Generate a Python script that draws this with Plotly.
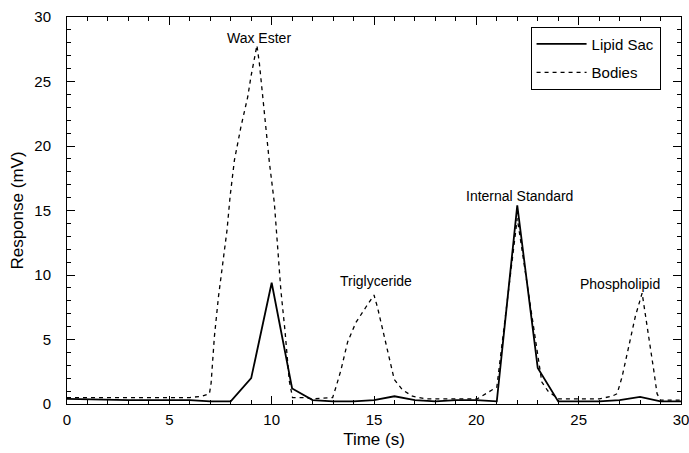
import plotly.graph_objects as go

# Lipid Sac (solid), sampled each second
lipid_t = list(range(0, 31))
lipid_v = [0.4, 0.35, 0.3, 0.3, 0.3, 0.3, 0.3, 0.2, 0.2, 2.0,
           9.4, 1.2, 0.3, 0.2, 0.2, 0.3, 0.6, 0.3, 0.2, 0.3,
           0.3, 0.2, 15.4, 2.8, 0.2, 0.2, 0.2, 0.3, 0.55, 0.2, 0.2]

# Bodies (dashed)
bodies_t = [0, 2, 4, 6, 6.6, 6.96, 7.04, 7.2, 7.4, 7.61, 7.82, 7.97, 8.18, 8.5, 8.83, 8.99,
            9.28, 9.4, 9.64, 9.89, 10.13, 10.29, 10.45, 10.65, 10.86, 11.02, 11.5, 12.0,
            12.98, 13.14, 13.38, 13.71, 14.11, 14.6, 15.0, 15.17, 15.5, 15.74, 15.99, 16.39,
            16.88, 17.5, 19.0, 20.05, 20.78, 21.0, 22.0, 23.2, 23.5, 24.0, 26.0, 26.63,
            26.88, 27.12, 27.37, 27.61, 27.77, 28.1, 28.26, 28.5, 28.67, 28.83, 29.0, 30.0]
bodies_v = [0.5, 0.5, 0.5, 0.5, 0.6, 0.8, 1.6, 5.2, 8.3, 10.9, 13.5, 16.1, 18.9, 21.5, 23.8, 25.4,
            27.8, 26.4, 22.5, 18.7, 15.6, 12.5, 8.8, 5.7, 1.8, 0.5, 0.5, 0.4,
            0.5, 1.3, 2.6, 4.8, 6.3, 7.5, 8.45, 7.5, 5.2, 3.7, 1.9, 1.1,
            0.6, 0.4, 0.4, 0.4, 1.1, 1.3, 14.4, 1.7, 1.0, 0.4, 0.4, 0.6,
            0.8, 2.1, 3.9, 5.5, 6.8, 8.6, 7.0, 4.4, 2.6, 0.8, 0.3, 0.3]

peak_names = ["Wax Ester", "Triglyceride", "Internal Standard", "Phospholipid"]
peak_x = [9.4, 15.1, 22.1, 27.0]
peak_y = [28.4, 9.5, 16.1, 9.3]

x_ticks = [0, 5, 10, 15, 20, 25, 30]
y_ticks = [0, 5, 10, 15, 20, 25, 30]

FONT = "Liberation Sans, Arial, sans-serif"

fig = go.Figure()
fig.add_trace(go.Scatter(x=lipid_t, y=lipid_v, mode="lines", name="Lipid Sac",
                         legendgroup="a",
                         line=dict(color="black", width=1.8)))
fig.add_trace(go.Scatter(x=bodies_t, y=bodies_v, mode="lines", name="Bodies",
                         legendgroup="b",
                         line=dict(color="black", width=1.3, dash="4px,4px")))

for n, xx, yy in zip(peak_names, peak_x, peak_y):
    fig.add_annotation(x=xx, y=yy, text=n, showarrow=False,
                       font=dict(family=FONT, size=14, color="black"))

axis_common = dict(showline=True, linecolor="black", linewidth=1, mirror="ticks",
                   ticks="inside", ticklen=8, tickwidth=1, tickcolor="black",
                   showgrid=False, zeroline=False, ticklabeloverflow="allow",
                   automargin=False,
                   tickfont=dict(family=FONT, size=15, color="black"))

fig.update_xaxes(range=[0, 30], tickvals=x_ticks, ticklabelstandoff=2,
                 title=dict(text="Time (s)", font=dict(family=FONT, size=17, color="black"), standoff=6),
                 minor=dict(ticks="inside", ticklen=4, dtick=1, tickcolor="black", tick0=0),
                 **axis_common)
fig.update_yaxes(range=[0, 30], tickvals=y_ticks, ticklabelstandoff=12,
                 title=dict(text="Response (mV)", font=dict(family=FONT, size=17, color="black"), standoff=6),
                 minor=dict(ticks="inside", ticklen=4, dtick=1, tickcolor="black", tick0=0),
                 **axis_common)

fig.update_layout(
    width=689, height=453,
    margin=dict(l=67, r=8, t=17, b=49),
    paper_bgcolor="white", plot_bgcolor="white",
    showlegend=True,
    legend=dict(x=0.755, y=0.975, xanchor="left", yanchor="top",
                bordercolor="black", borderwidth=1, bgcolor="white",
                font=dict(family=FONT, size=15, color="black"),
                itemwidth=50, tracegroupgap=6, entrywidth=136, entrywidthmode="pixels"),
)

fig.write_html("out.html")
